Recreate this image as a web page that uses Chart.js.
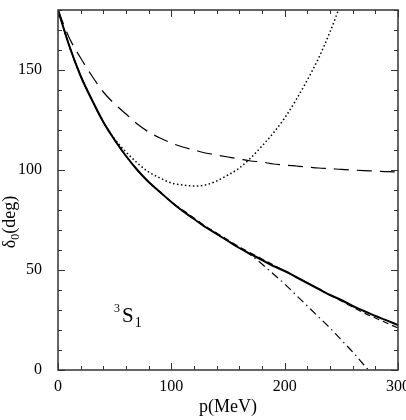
<!DOCTYPE html>
<html>
<head>
<meta charset="utf-8">
<script src="https://cdn.jsdelivr.net/npm/chart.js@4"></script>
<style>
  html, body { margin: 0; padding: 0; background: #fff; }
  #wrap { width: 406px; height: 420px; }
</style>
</head>
<body>
<div id="wrap"><canvas id="c" width="406" height="420"></canvas></div>
<script>
// momentum p (MeV)
const pValues = [0, 10, 20, 30, 40, 50, 60, 70, 80, 90, 100, 110, 120, 130, 140, 150, 160, 170, 180, 190, 200, 210, 220, 230, 240, 250, 260, 270, 280, 290, 300];

// phase shifts (deg)
const solid    = [180, 162, 147, 135, 124, 115, 107, 100, 94, 89, 84, 79.5, 75.5, 71.5, 68, 64.5, 61, 58, 55, 52, 49.5, 46.5, 43.5, 40.5, 37.5, 35, 32, 29.5, 27, 24.8, 22.5];
const shortDash = [180, 162, 147, 135, 124, 115, 107, 100, 94, 89, 84, 80, 76, 72, 68.5, 65, 61.5, 58.5, 55.5, 52.5, 49.5, 46.5, 43.5, 40.5, 37.5, 34.5, 31.5, 28.5, 26, 23.5, 21];
const longDash = [180, 166, 156, 147, 139, 133, 128, 123, 119, 116, 113.5, 111.5, 110, 108.5, 107.5, 106.5, 105.5, 104.5, 104, 103, 102.5, 102, 101.5, 101, 100.7, 100.3, 100, 99.7, 99.5, 99.2, 99];
const dotted   = [180, 162, 147, 135, 124, 115.5, 109, 103.5, 99, 96, 93.5, 92.5, 92, 92.5, 94.5, 97.5, 101, 106, 112, 118.5, 126, 135, 145, 156, 169, 184, 200, null, null, null, null];
const dashDot  = [180, 162, 147, 135, 124, 115, 107, 100, 94, 89, 84, 79.5, 75.5, 71.5, 68, 64.5, 61, 57.5, 53, 48, 43, 37.5, 32, 26.5, 21, 15, 9, 2.5, -4, null, null];

const xTicks = [0, 100, 200, 300];
const yTicks = [0, 50, 100, 150];

const FONT = "'Liberation Serif', 'Times New Roman', serif";

function pts(ys) {
  return pValues.map((x, i) => ({ x, y: ys[i] })).filter(p => p.y !== null);
}

function line(ys, width, dash) {
  return {
    data: pts(ys),
    borderColor: '#000',
    borderWidth: width,
    borderDash: dash,
    pointRadius: 0,
    fill: false,
    cubicInterpolationMode: 'monotone',
  };
}

// frame, inward ticks, axis titles and the 3S1 label
const decor = {
  id: 'decor',
  afterDraw(chart) {
    const { ctx, chartArea: a, scales } = chart;
    const xs = scales.x, ys = scales.y;
    ctx.save();
    ctx.strokeStyle = '#333';
    ctx.lineWidth = 1.5;
    ctx.strokeRect(a.left, a.top, a.right - a.left, a.bottom - a.top);
    ctx.lineWidth = 1;
    ctx.beginPath();
    for (let v = 0; v <= 300; v += 20) {
      const px = Math.round(xs.getPixelForValue(v)) + 0.5;
      const len = v % 100 === 0 ? 7 : 4;
      ctx.moveTo(px, a.bottom); ctx.lineTo(px, a.bottom - len);
      ctx.moveTo(px, a.top); ctx.lineTo(px, a.top + len);
    }
    for (let v = 0; v <= 180; v += 10) {
      const py = Math.round(ys.getPixelForValue(v)) + 0.5;
      const len = v % 50 === 0 ? 7 : 4;
      ctx.moveTo(a.left, py); ctx.lineTo(a.left + len, py);
      ctx.moveTo(a.right, py); ctx.lineTo(a.right - len, py);
    }
    ctx.stroke();

    ctx.fillStyle = '#000';
    ctx.textBaseline = 'alphabetic';
    // x title
    ctx.font = '18px ' + FONT;
    ctx.textAlign = 'center';
    ctx.fillText('p(MeV)', (a.left + a.right) / 2, 412);

    // y title, rotated, with subscript 0
    ctx.save();
    ctx.translate(15, 222);
    ctx.rotate(-Math.PI / 2);
    ctx.textAlign = 'left';
    const w1 = ctx.measureText('δ').width;
    ctx.font = '12px ' + FONT;
    const w2 = ctx.measureText('0').width;
    ctx.font = '18px ' + FONT;
    const w3 = ctx.measureText('(deg)').width;
    let x0 = -(w1 + w2 + w3) / 2;
    ctx.fillText('δ', x0, 0);
    ctx.font = '12px ' + FONT;
    ctx.fillText('0', x0 + w1, 4);
    ctx.font = '18px ' + FONT;
    ctx.fillText('(deg)', x0 + w1 + w2, 0);
    ctx.restore();

    // 3S1 label
    const lx = xs.getPixelForValue(56.5), ly = ys.getPixelForValue(24);
    ctx.textAlign = 'left';
    ctx.font = '12px ' + FONT;
    ctx.fillText('3', lx - 8, ly - 10);
    ctx.font = '21px ' + FONT;
    ctx.fillText('S', lx, ly);
    const sw = ctx.measureText('S').width;
    ctx.font = '14px ' + FONT;
    ctx.fillText('1', lx + sw + 1, ly + 5);
    ctx.restore();
  }
};

new Chart(document.getElementById('c'), {
  type: 'line',
  data: {
    datasets: [
      line(solid, 2, []),
      line(shortDash, 1.2, [6, 4]),
      line(longDash, 1.2, [15, 8]),
      line(dotted, 1.5, [1.5, 2.5]),
      line(dashDot, 1.2, [8, 4, 1.5, 4]),
    ],
  },
  options: {
    responsive: false,
    animation: false,
    layout: { padding: { top: 10, right: 8, left: 0, bottom: 0 } },
    plugins: { legend: { display: false }, tooltip: { enabled: false } },
    scales: {
      x: {
        type: 'linear',
        min: 0,
        max: 300,
        grid: { display: false, drawTicks: false },
        border: { display: false },
        afterBuildTicks: s => { s.ticks = xTicks.map(v => ({ value: v })); },
        afterFit: s => { s.height = 50; s.paddingLeft = 0; s.paddingRight = 0; },
        ticks: { color: '#000', font: { family: FONT, size: 16 }, padding: 7, maxRotation: 0 },
      },
      y: {
        min: 0,
        max: 180,
        grid: { display: false, drawTicks: false },
        border: { display: false },
        afterBuildTicks: s => { s.ticks = yTicks.map(v => ({ value: v })); },
        afterFit: s => { s.width = 58; s.paddingTop = 0; s.paddingBottom = 0; },
        ticks: { color: '#000', font: { family: FONT, size: 16 }, padding: 16 },
      },
    },
  },
  plugins: [decor],
});
</script>
</body>
</html>
